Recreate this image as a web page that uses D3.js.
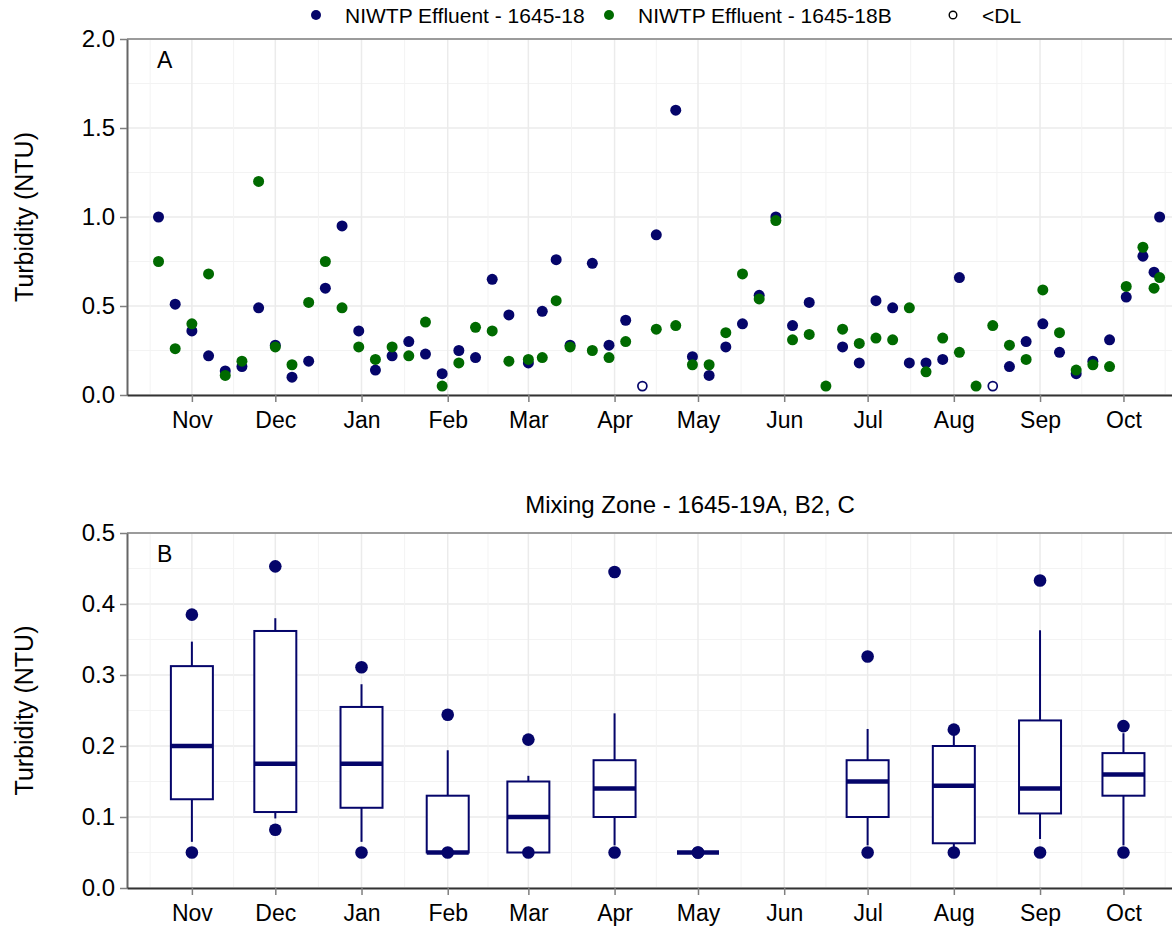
<!DOCTYPE html>
<html>
<head>
<meta charset="utf-8">
<script src="https://cdn.jsdelivr.net/npm/d3@7"></script>
<style>
  html, body { margin: 0; padding: 0; background: #fff; }
  svg { display: block; font-family: "Liberation Sans", Arial, sans-serif; }
</style>
</head>
<body>
<svg id="chart" width="1172" height="930"></svg>
<script>
// ---- Effluent sampling (panel A) ----
const sampleDates = [
  "2019-11-03","2019-11-09","2019-11-15","2019-11-21","2019-11-27","2019-12-03","2019-12-09","2019-12-15",
  "2019-12-21","2019-12-27","2020-01-02","2020-01-08","2020-01-14","2020-01-20","2020-01-26","2020-02-01",
  "2020-02-07","2020-02-13","2020-02-19","2020-02-25","2020-03-02","2020-03-08","2020-03-15","2020-03-20",
  "2020-03-25","2020-03-30","2020-04-07","2020-04-13","2020-04-19","2020-04-25","2020-04-30","2020-05-07",
  "2020-05-13","2020-05-19","2020-05-25","2020-05-31","2020-06-06","2020-06-12","2020-06-18","2020-06-24",
  "2020-06-30","2020-07-06","2020-07-12","2020-07-18","2020-07-24","2020-07-30","2020-08-05","2020-08-11",
  "2020-08-17","2020-08-23","2020-08-29","2020-09-04","2020-09-10","2020-09-16","2020-09-22","2020-09-28",
  "2020-10-04","2020-10-10","2020-10-16","2020-10-22","2020-10-26","2020-10-28"
];
// NIWTP Effluent - 1645-18 (NTU); null = no sample
const effluent18 = [
  1.00,0.51,0.36,0.22,0.135,0.16,0.49,0.28,
  0.10,0.19,0.60,0.95,0.36,0.14,0.22,0.30,
  0.23,0.12,0.25,0.21,0.65,0.45,0.18,0.47,
  0.76,0.28,0.74,0.28,0.42,0.05,0.90,1.60,
  0.215,0.11,0.27,0.40,0.56,1.00,0.39,0.52,
  null,0.27,0.18,0.53,0.49,0.18,0.18,0.20,
  0.66,null,0.05,0.16,0.30,0.40,0.24,0.12,
  0.19,0.31,0.55,0.78,0.69,1.00
];
// NIWTP Effluent - 1645-18B (NTU); null = no sample
const effluent18B = [
  0.75,0.26,0.40,0.68,0.11,0.19,1.20,0.27,
  0.17,0.52,0.75,0.49,0.27,0.20,0.27,0.22,
  0.41,0.05,0.18,0.38,0.36,0.19,0.20,0.21,
  0.53,0.27,0.25,0.21,0.30,null,0.37,0.39,
  0.17,0.17,0.35,0.68,0.54,0.98,0.31,0.34,
  0.05,0.37,0.29,0.32,0.31,0.49,0.13,0.32,
  0.24,0.05,0.39,0.28,0.20,0.59,0.35,0.14,
  0.17,0.16,0.61,0.83,0.60,0.66
];
// 1645-18 results reported below the detection limit (plotted at half DL)
const belowDL18 = ["2020-04-25","2020-08-29"];

// ---- Mixing zone monthly summaries (panel B) ----
const mzMonths  = ["2019-11-15","2019-12-15","2020-01-15","2020-02-15","2020-03-15","2020-04-15",
                   "2020-05-15","2020-06-15","2020-07-15","2020-08-15","2020-09-15","2020-10-15"];
const mzMin     = [0.050,0.082,0.050,0.050,0.050,0.050,0.050,null,0.050,0.050,0.050,0.050];
const mzLowWhisk= [0.065,0.098,0.065,0.050,0.050,0.060,0.050,null,0.060,0.050,0.069,0.060];
const mzQ1      = [0.125,0.107,0.113,0.050,0.050,0.100,0.050,null,0.100,0.063,0.105,0.130];
const mzMedian  = [0.200,0.175,0.175,0.050,0.100,0.140,0.050,null,0.150,0.144,0.140,0.160];
const mzQ3      = [0.3125,0.362,0.255,0.130,0.150,0.180,0.050,null,0.180,0.200,0.236,0.190];
const mzUpWhisk = [0.347,0.380,0.287,0.194,0.158,0.246,0.050,null,0.224,0.220,0.363,0.218];
const mzMax     = [0.385,0.453,0.311,0.244,0.209,0.445,0.050,null,0.326,0.223,0.433,0.228];

// ---- Axis ticks ----
const monthTickDates = mzMonths;
const monthLabels = ["Nov","Dec","Jan","Feb","Mar","Apr","May","Jun","Jul","Aug","Sep","Oct"];
const ticksA = [0, 0.5, 1.0, 1.5, 2.0];
const ticksB = [0, 0.1, 0.2, 0.3, 0.4, 0.5];

const navy = "#05056a";
const green = "#006a00";
const parse = d3.utcParse("%Y-%m-%d");
const FONT = "Liberation Sans, Arial, sans-serif";

const svg = d3.select("#chart");

const x = d3.scaleUtc()
  .domain([new Date(Date.UTC(2019, 9, 22, 16)), new Date(Date.UTC(2020, 10, 30, 14))])
  .range([127, 1253]);

const panels = {
  A: { top: 39, bottom: 395, domain: [0, 2], ticks: ticksA, fmt: d3.format(".1f"), letter: "A" },
  B: { top: 533, bottom: 888, domain: [0, 0.5], ticks: ticksB, fmt: d3.format(".1f"), letter: "B" }
};

function drawFrame(p) {
  const y = d3.scaleLinear().domain(p.domain).range([p.bottom, p.top]);
  p.y = y;
  const g = svg.append("g");
  const left = x.range()[0], right = x.range()[1];

  // minor horizontal grid at midpoints of major ticks
  const minorY = d3.pairs(p.ticks).map(([a, b]) => (a + b) / 2);
  g.selectAll(".hmin").data(minorY).join("line")
    .attr("x1", left).attr("x2", right)
    .attr("y1", d => y(d)).attr("y2", d => y(d))
    .attr("stroke", "#f3f3f3").attr("stroke-width", 1);
  g.selectAll(".hmaj").data(p.ticks).join("line")
    .attr("x1", left).attr("x2", right)
    .attr("y1", d => y(d)).attr("y2", d => y(d))
    .attr("stroke", "#ebebeb").attr("stroke-width", 1.5);

  // vertical grid: majors at month ticks, minors halfway between
  const tickX = monthTickDates.map(d => x(parse(d)));
  const n = tickX.length;
  const minorX = [tickX[0] - (tickX[1] - tickX[0]) / 2]
    .concat(d3.pairs(tickX).map(([a, b]) => (a + b) / 2))
    .concat([tickX[n - 1] + (tickX[n - 1] - tickX[n - 2]) / 2]);
  g.selectAll(".vmin").data(minorX).join("line")
    .attr("x1", d => d).attr("x2", d => d)
    .attr("y1", p.top).attr("y2", p.bottom)
    .attr("stroke", "#f3f3f3").attr("stroke-width", 1);
  g.selectAll(".vmaj").data(tickX).join("line")
    .attr("x1", d => d).attr("x2", d => d)
    .attr("y1", p.top).attr("y2", p.bottom)
    .attr("stroke", "#ebebeb").attr("stroke-width", 1.5);

  // top border
  g.append("line").attr("x1", left).attr("x2", right)
    .attr("y1", p.top).attr("y2", p.top)
    .attr("stroke", "#7f7f7f").attr("stroke-width", 1.5);

  // y axis
  const yAxis = d3.axisLeft(y).tickValues(p.ticks).tickFormat(p.fmt).tickSizeInner(7).tickSizeOuter(0).tickPadding(5);
  const ya = svg.append("g").attr("transform", `translate(${left},0)`).call(yAxis);
  ya.select(".domain").attr("stroke", "#666").attr("stroke-width", 2);
  ya.selectAll(".tick line").attr("stroke", "#7f7f7f").attr("stroke-width", 1.5);
  ya.selectAll(".tick text").attr("font-size", 24).attr("fill", "#000").attr("font-family", FONT);

  // x axis
  const xAxis = d3.axisBottom(x).tickValues(monthTickDates.map(parse))
    .tickFormat((d, i) => monthLabels[i]).tickSizeInner(7).tickSizeOuter(0).tickPadding(10);
  const xa = svg.append("g").attr("transform", `translate(0,${p.bottom})`).call(xAxis);
  xa.select(".domain").attr("stroke", "#333").attr("stroke-width", 2);
  xa.selectAll(".tick line").attr("stroke", "#7f7f7f").attr("stroke-width", 1.5);
  xa.selectAll(".tick text").attr("font-size", 23).attr("fill", "#000").attr("font-family", FONT);

  // panel letter
  svg.append("text").attr("x", 157).attr("y", p.top + 29)
    .attr("font-size", 23).attr("fill", "#000").text(p.letter);

  // y title
  svg.append("text")
    .attr("transform", `translate(33,${(p.top + p.bottom) / 2}) rotate(-90)`)
    .attr("text-anchor", "middle").attr("font-size", 25).attr("fill", "#000")
    .text("Turbidity (NTU)");
}

drawFrame(panels.A);
drawFrame(panels.B);

// ---- Panel A points ----
const yA = panels.A.y;
const dlSet = new Set(belowDL18);
const rowsA = sampleDates.map((d, i) => ({ date: parse(d), key: d, v18: effluent18[i], v18B: effluent18B[i] }));

svg.append("g").selectAll("circle")
  .data(rowsA.filter(r => r.v18 != null && !dlSet.has(r.key)))
  .join("circle")
  .attr("cx", r => x(r.date)).attr("cy", r => yA(r.v18)).attr("r", 5.5)
  .attr("fill", navy);

svg.append("g").selectAll("circle")
  .data(rowsA.filter(r => r.v18 != null && dlSet.has(r.key)))
  .join("circle")
  .attr("cx", r => x(r.date)).attr("cy", r => yA(r.v18)).attr("r", 4.5)
  .attr("fill", "#fff").attr("stroke", navy).attr("stroke-width", 1.7);

svg.append("g").selectAll("circle")
  .data(rowsA.filter(r => r.v18B != null))
  .join("circle")
  .attr("cx", r => x(r.date)).attr("cy", r => yA(r.v18B)).attr("r", 5.5)
  .attr("fill", green);

// ---- Panel B box plots ----
const yB = panels.B.y;
const boxW = 42;
const boxes = mzMonths.map((d, i) => ({
  date: parse(d), min: mzMin[i], lw: mzLowWhisk[i], q1: mzQ1[i], med: mzMedian[i],
  q3: mzQ3[i], uw: mzUpWhisk[i], max: mzMax[i]
})).filter(b => b.med != null);

const bg = svg.append("g").selectAll("g").data(boxes).join("g")
  .attr("transform", b => `translate(${x(b.date)},0)`);
bg.append("line").attr("x1", 0).attr("x2", 0)
  .attr("y1", b => yB(b.q3)).attr("y2", b => yB(b.uw))
  .attr("stroke", navy).attr("stroke-width", 2);
bg.append("line").attr("x1", 0).attr("x2", 0)
  .attr("y1", b => yB(b.q1)).attr("y2", b => yB(b.lw))
  .attr("stroke", navy).attr("stroke-width", 2);
bg.append("rect")
  .attr("x", -boxW / 2).attr("width", boxW)
  .attr("y", b => yB(b.q3)).attr("height", b => yB(b.q1) - yB(b.q3))
  .attr("fill", "#fff").attr("stroke", navy).attr("stroke-width", 2);
bg.append("line").attr("x1", -boxW / 2).attr("x2", boxW / 2)
  .attr("y1", b => yB(b.med)).attr("y2", b => yB(b.med))
  .attr("stroke", navy).attr("stroke-width", 4.5);
bg.append("circle").attr("cx", 0).attr("cy", b => yB(b.max)).attr("r", 6.3).attr("fill", navy);
bg.append("circle").attr("cx", 0).attr("cy", b => yB(b.min)).attr("r", 6.3).attr("fill", navy);

// panel B title
svg.append("text").attr("x", 690).attr("y", 513).attr("text-anchor", "middle")
  .attr("font-size", 24).attr("fill", "#000").text("Mixing Zone - 1645-19A, B2, C");

// ---- Legend ----
const legendItems = [
  { label: "NIWTP Effluent - 1645-18", type: "fill", color: navy, cx: 316 },
  { label: "NIWTP Effluent - 1645-18B", type: "fill", color: green, cx: 609 },
  { label: "<DL", type: "open", color: "#000", cx: 953 }
];
const lg = svg.append("g").selectAll("g").data(legendItems).join("g")
  .attr("transform", d => `translate(${d.cx},15)`);
lg.append("circle").attr("r", d => d.type === "open" ? 3.8 : 5)
  .attr("fill", d => d.type === "open" ? "#fff" : d.color)
  .attr("stroke", d => d.type === "open" ? d.color : "none")
  .attr("stroke-width", 1.4);
lg.append("text").attr("x", 29).attr("y", 7.5)
  .attr("font-size", 21).attr("fill", "#000").text(d => d.label);
</script>
</body>
</html>
